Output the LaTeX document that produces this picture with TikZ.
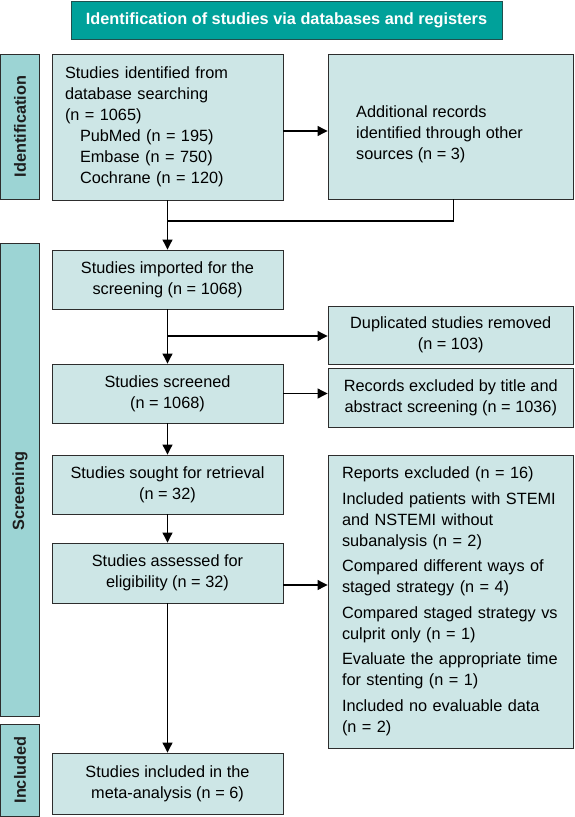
\documentclass[tikz,border=0pt]{standalone}
\usepackage{fontspec}
\setmainfont{Liberation Sans}
\usetikzlibrary{arrows.meta,calc}
\definecolor{tealc}{RGB}{0,161,154}
\definecolor{sidec}{RGB}{156,212,212}
\definecolor{boxc}{RGB}{205,230,230}
\definecolor{edgec}{RGB}{45,45,45}
\definecolor{sidetext}{RGB}{30,30,30}
\tikzset{
  every node/.style={font=\fontsize{16.3}{21}\selectfont},
  box/.style={draw=edgec, line width=0.9pt, fill=boxc, rectangle, inner sep=0pt, align=center},
  sidebox/.style={draw=edgec, line width=0.9pt, fill=sidec, rectangle, inner sep=0pt, minimum width=39pt},
  sidelabel/.style={rotate=90, text=sidetext, font=\fontsize{16.3}{21}\selectfont\bfseries, inner sep=0pt},
  titlebox/.style={draw=edgec!70!tealc, line width=0.9pt, fill=tealc, text=white, font=\fontsize{16.3}{21}\selectfont\bfseries, inner sep=0pt},
  conn/.style={line width=1.1pt, black},
  arr/.style={conn, -{Triangle[length=10pt,width=10pt]}}
}
\begin{document}
\begin{tikzpicture}[x=1pt,y=-1pt]
\useasboundingbox (0,0) rectangle (574,817);
% title
\node[titlebox, minimum width=431pt, minimum height=38pt] (title) at (286.5,20) {Identification of studies via databases and registers};
% side labels
\node[sidebox, minimum height=145pt] (idbox) at (20,126.5) {};
\node[sidelabel] (idlab) at (20,126.5) {Identification};
\node[sidebox, minimum height=473pt] (scbox) at (20,479.5) {};
\node[sidelabel] (sclab) at (20,491) {Screening};
\node[sidebox, minimum height=92pt] (inbox) at (20,770) {};
\node[sidelabel] (inlab) at (20,770) {Included};
% main boxes
\node[box, minimum width=231pt, minimum height=146pt, text width=205pt, align=left] (b1) at (167.5,127)
  {Studies identified from\\database searching\\(n = 1065)\\\hspace*{15pt}PubMed (n = 195)\\\hspace*{15pt}Embase (n = 750)\\\hspace*{15pt}Cochrane (n = 120)};
\node[box, minimum width=245.5pt, minimum height=145pt] (b2) at (450.75,126.5) {};
\node[anchor=west, align=left, inner sep=0pt] (b2t) at (356,134) {Additional records\\identified through other\\sources (n = 3)};
\node[box, minimum width=231pt, minimum height=59pt] (imp) at (167.5,279.5) {Studies imported for the\\screening (n = 1068)};
\node[box, minimum width=245.5pt, minimum height=58pt] (dup) at (450.75,335) {Duplicated studies removed\\(n = 103)};
\node[box, minimum width=231pt, minimum height=59pt] (scr) at (167.5,393.5) {Studies screened\\(n = 1068)};
\node[box, minimum width=245.5pt, minimum height=59pt] (rec) at (450.75,397.5) {Records excluded by title and\\abstract screening (n = 1036)};
\node[box, minimum width=231pt, minimum height=59pt] (sou) at (167.5,484.5) {Studies sought for retrieval\\(n = 32)};
\node[box, minimum width=231pt, minimum height=60pt] (ass) at (167.5,573) {Studies assessed for\\eligibility (n = 32)};
\node[box, minimum width=245.5pt, minimum height=293pt, text width=217.5pt, align=left] (rep) at (450.75,601.5)
  {Reports excluded (n = 16)\\[4.5pt]
   Included patients with STEMI\\and NSTEMI without\\subanalysis (n = 2)\\[4.5pt]
   Compared different ways of\\staged strategy (n = 4)\\[4.5pt]
   Compared staged strategy vs\\culprit only (n = 1)\\[4.5pt]
   Evaluate the appropriate time\\for stenting (n = 1)\\[4.5pt]
   Included no evaluable data\\(n = 2)};
\node[box, minimum width=231pt, minimum height=61pt] (met) at (167.5,783.5) {Studies included in the\\meta-analysis (n = 6)};
% connectors
\coordinate (join) at (167.5,221);
\coordinate (branch) at (167.5,336);
\draw[arr] ([yshift=-4pt]b1.east) -- ([yshift=-4pt]b1.east -| b2.west);
\draw[arr] (b1.south) -- (imp.north);
\draw[conn] ([xshift=3pt]b2.south) |- (join);
\draw[arr] (imp.south) -- (scr.north);
\draw[arr] (branch) -- (branch -| dup.west);
\draw[arr] (scr.east) -- (scr.east -| rec.west);
\draw[arr] (scr.south) -- (sou.north);
\draw[arr] (sou.south) -- (ass.north);
\draw[arr] ([yshift=-12pt]ass.east) -- ([yshift=-12pt]ass.east -| rep.west);
\draw[arr] (ass.south) -- (met.north);
\end{tikzpicture}
\end{document}
